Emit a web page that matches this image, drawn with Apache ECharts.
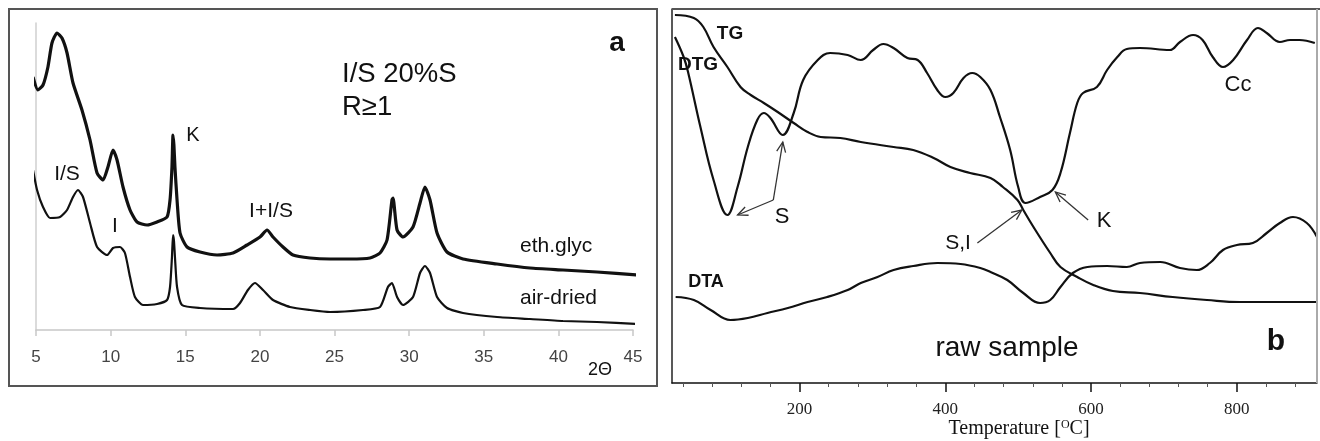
<!DOCTYPE html>
<html><head><meta charset="utf-8">
<script src="https://cdn.jsdelivr.net/npm/echarts@6/dist/echarts.min.js"></script>
<style>html,body{margin:0;padding:0;background:#fff}#c{width:1320px;height:441px}</style>
</head><body><div id="c"></div>
<script>
// ---- Panel a: XRD patterns (2Theta vs intensity, arbitrary units) ----
const xrdTicks = [5,10,15,20,25,30,35,40,45];
const ethGlycTheta = [4.8,5.13,5.47,5.8,6.07,6.41,6.74,7.08,7.48,8.08,8.62,9.09,9.49,9.82,10.16,10.43,10.83,11.3,11.77,12.44,13.11,13.78,13.98,14.11,14.18,14.24,14.31,14.45,14.65,15.12,15.99,17.13,18.2,19.14,20.01,20.48,20.88,21.55,22.22,23.36,24.7,26.04,27.38,28.05,28.52,28.85,28.92,29.19,29.59,30.26,30.73,31.06,31.4,31.87,32.54,33.61,35.89,38.1,40.31,42.59,45.27];
const ethGlycI = [253,240,245,263,287,297,292,277,247,220,190,157,150,163,180,170,143,120,108,105,108,113,130,163,195,185,163,130,97,83,78,75,77,85,93,100,93,83,75,72,71,71,72,77,90,130,132,100,93,103,127,143,130,97,78,71,66,62,60,58,55];
const airDriedTheta = [4.8,5.07,5.47,5.94,6.61,7.08,7.48,7.81,8.15,8.62,9.09,9.76,10.16,10.63,10.96,11.3,11.63,12.17,13.11,13.78,13.98,14.11,14.18,14.24,14.31,14.45,14.78,15.99,18.2,18.67,19.2,19.67,20.21,20.88,22.02,23.36,24.7,26.91,28.05,28.58,28.85,29.19,29.59,30.26,30.73,31.06,31.4,31.87,32.54,33.61,35.89,38.1,40.31,42.59,45.27];
const airDriedI = [160,140,123,112,113,120,133,140,133,107,83,75,82,83,77,53,33,25,26,30,43,73,95,90,73,43,25,22,21,27,40,47,40,30,23,20,18,20,23,43,47,33,25,33,57,64,57,33,22,17,13,11,9,8,6];

// ---- Panel b: thermal analysis (temperature in degC vs signal, arbitrary units) ----
const tempTicks = [200,400,600,800];
const tempMinorTicks = [40,80,120,160,240,280,320,360,440,480,520,560,640,680,720,760,840,880];
const tgT = [29,55,68,82,101,119,133,151,170,192,211,229,256,284,329,356,384,407,434,462,479,499,507,521,544,558,581,603,630,667,712,759,804,910];
const tgV = [368,365,356,336,316,296,288,280,271,260,251,246,245,241,236,233,225,216,210,205,196,183,173,156,130,116,106,98,92,90,86,83,81,81];
const dtgT = [29,41,47,64,82,101,115,129,142,151,160,177,192,205,225,242,266,284,301,315,329,348,362,375,389,400,411,425,437,448,462,475,489,500,510,530,547,558,571,581,589,608,622,636,649,667,708,722,740,753,767,781,795,814,829,841,859,873,886,907];
const dtgV = [346,326,311,256,203,168,196,236,263,270,265,248,270,303,323,330,328,323,333,339,335,325,323,310,293,286,290,305,310,306,293,266,233,196,180,186,193,210,250,280,290,296,313,326,334,335,333,341,348,343,326,316,323,343,355,350,341,343,343,340];
const dtaT = [30,55,78,105,129,156,184,211,238,266,284,307,329,356,389,421,448,462,485,507,530,544,558,575,595,622,649,667,695,722,745,763,781,800,822,841,859,877,896,910];
const dtaV = [86,83,73,63,65,70,75,81,86,93,100,106,113,117,120,119,115,111,103,90,80,83,96,110,116,117,116,120,121,115,113,120,133,138,140,150,160,166,160,146];

const zip = (a,b) => a.map((v,i)=>[v,b[i]]);
const SANS = 'Liberation Sans, Arial, sans-serif';
const SERIF = 'Liberation Serif, Times New Roman, serif';

const chart = echarts.init(document.getElementById('c'), null, {renderer:'canvas'});

const option = {
  animation:false,
  backgroundColor:'#fff',
  grid:[
    {left:36, top:23, width:597, height:307},
    {left:672, top:9, width:645, height:374}
  ],
  xAxis:[
    {gridIndex:0, type:'value', position:'bottom', min:5, max:45, interval:5,
     axisLine:{lineStyle:{color:'#c8c8c8', width:1.5}},
     axisTick:{show:true, length:6, lineStyle:{color:'#c8c8c8', width:1.5}},
     axisLabel:{color:'#444', fontSize:17, fontFamily:SANS, margin:19},
     splitLine:{show:false}},
    {gridIndex:1, type:'value', position:'bottom', min:25, max:910,
     axisLine:{lineStyle:{color:'#111', width:1.5}},
     axisTick:{show:true, customValues:tempTicks, length:9, lineStyle:{color:'#111', width:1.5}},
     axisLabel:{show:true, customValues:tempTicks, color:'#222', fontSize:17, fontFamily:SERIF, margin:18},
     splitLine:{show:false}},
    {gridIndex:1, type:'value', position:'bottom', offset:0, min:25, max:910,
     axisLine:{show:false},
     axisTick:{show:true, customValues:tempMinorTicks, length:4, lineStyle:{color:'#555', width:1}},
     axisLabel:{show:false},
     splitLine:{show:false}}
  ],
  yAxis:[
    {gridIndex:0, type:'value', min:0, max:307,
     axisLine:{show:true, lineStyle:{color:'#cfcfcf', width:1.5}},
     axisTick:{show:false}, axisLabel:{show:false}, splitLine:{show:false}},
    {gridIndex:1, type:'value', min:0, max:374,
     axisLine:{show:true, lineStyle:{color:'#222', width:1.5}},
     axisTick:{show:false}, axisLabel:{show:false}, splitLine:{show:false}}
  ],
  series:[
    {name:'eth.glyc', type:'line', xAxisIndex:0, yAxisIndex:0, data:zip(ethGlycTheta, ethGlycI),
     showSymbol:false, clip:false, smooth:0.2, lineStyle:{color:'#111', width:3.2}},
    {name:'air-dried', type:'line', xAxisIndex:0, yAxisIndex:0, data:zip(airDriedTheta, airDriedI),
     showSymbol:false, clip:false, smooth:0.2, lineStyle:{color:'#111', width:2.2}},
    {name:'TG', type:'line', xAxisIndex:1, yAxisIndex:1, data:zip(tgT, tgV),
     showSymbol:false, smooth:0.4, lineStyle:{color:'#111', width:2.2}},
    {name:'DTG', type:'line', xAxisIndex:1, yAxisIndex:1, data:zip(dtgT, dtgV),
     showSymbol:false, smooth:0.4, lineStyle:{color:'#111', width:2.2}},
    {name:'DTA', type:'line', xAxisIndex:1, yAxisIndex:1, data:zip(dtaT, dtaV),
     showSymbol:false, smooth:0.4, lineStyle:{color:'#111', width:2.2}}
  ]
};
chart.setOption(option);

// annotation arrows in data coordinates of panel b
const arrowsB = [
  {from:[164,183], to:[115,168]},
  {from:[164,183], to:[177,241]},
  {from:[444,140], to:[505,173]},
  {from:[596,163], to:[551,191]}
];

function txt(x,y,text,size,opts){
  opts = opts||{};
  return {type:'text', x:x, y:y, z:50, style:{text:text, fill:'#111', font:(opts.bold?'bold ':'')+size+'px '+(opts.family||SANS),
    textAlign:opts.align||'center', textVerticalAlign:'middle'}};
}
function arrowEls(p0,p1){
  const dx=p1[0]-p0[0], dy=p1[1]-p0[1];
  const ang=Math.atan2(dy,dx), L=11, a=0.42;
  const h1=[p1[0]-L*Math.cos(ang-a), p1[1]-L*Math.sin(ang-a)];
  const h2=[p1[0]-L*Math.cos(ang+a), p1[1]-L*Math.sin(ang+a)];
  const st={stroke:'#333', lineWidth:1.3, fill:null};
  return [
    {type:'polyline', z:40, shape:{points:[p0,p1]}, style:st},
    {type:'polyline', z:40, shape:{points:[h1,p1,h2]}, style:st}
  ];
}
const g = [];
// frames
g.push({type:'rect', z:30, shape:{x:9,y:9,width:648,height:377}, style:{stroke:'#555', lineWidth:2, fill:null}});
g.push({type:'line', z:30, shape:{x1:672,y1:9,x2:1320,y2:9}, style:{stroke:'#555', lineWidth:2.2}});
g.push({type:'line', z:30, shape:{x1:1317,y1:9,x2:1317,y2:383}, style:{stroke:'#aaa', lineWidth:2}});
// panel a text
g.push(txt(617,43,'a',28,{bold:true}));
g.push(txt(342,74,'I/S 20%S',27.5,{align:'left'}));
g.push(txt(342,107,'R\u22651',27.5,{align:'left'}));
g.push(txt(193,135,'K',20));
g.push(txt(67,174,'I/S',21));
g.push(txt(271,211,'I+I/S',21));
g.push(txt(115,226,'I',21));
g.push(txt(520,246,'eth.glyc',21,{align:'left'}));
g.push(txt(520,298,'air-dried',21,{align:'left'}));
g.push(txt(600,370,'2\u0398',18));
// panel b text
g.push(txt(730,34,'TG',19,{bold:true}));
g.push(txt(698,65,'DTG',19,{bold:true}));
g.push(txt(706,282,'DTA',18,{bold:true}));
g.push(txt(782,217,'S',22));
g.push(txt(958,243,'S,I',21));
g.push(txt(1104,221,'K',22));
g.push(txt(1238,85,'Cc',22));
g.push(txt(1007,348,'raw sample',28));
g.push(txt(1276,342,'b',30,{bold:true}));
g.push({type:'text', x:1019, y:429, z:50, style:{
  text:'Temperature [{s|O}C]', font:'20px '+SERIF, fill:'#111', textAlign:'center', textVerticalAlign:'middle',
  rich:{s:{fontSize:12, fontFamily:SERIF, verticalAlign:'top', padding:[0,0,8,0]}}}});
arrowsB.forEach(a=>{
  const p0 = chart.convertToPixel({xAxisIndex:1, yAxisIndex:1}, a.from);
  const p1 = chart.convertToPixel({xAxisIndex:1, yAxisIndex:1}, a.to);
  arrowEls(p0,p1).forEach(e=>g.push(e));
});
chart.setOption({graphic:{elements:g}});
</script>
</body></html>
